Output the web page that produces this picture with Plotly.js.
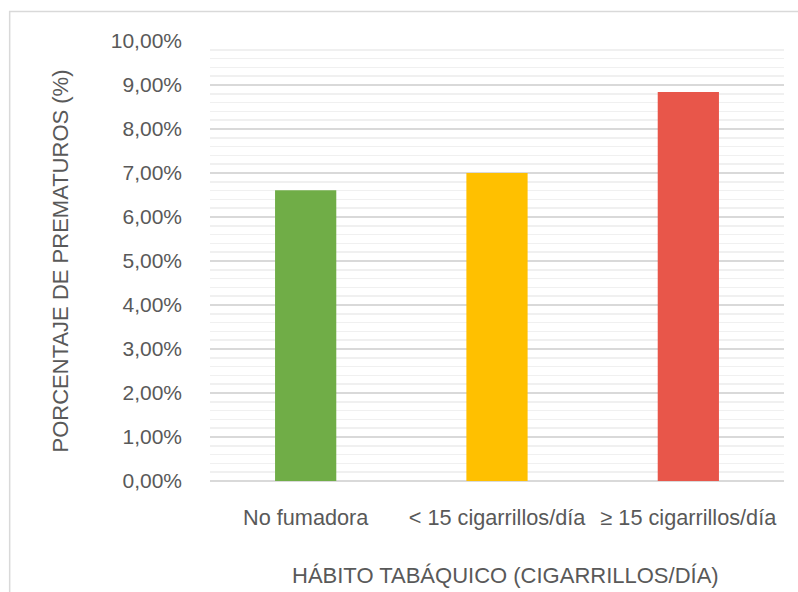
<!DOCTYPE html>
<html>
<head>
<meta charset="utf-8">
<script src="https://cdn.plot.ly/plotly-3.0.1.min.js"></script>
<style>
  html, body { margin: 0; padding: 0; background: #fff; }
  #chart { width: 798px; height: 592px; }
</style>
</head>
<body>
<div id="chart"></div>
<script>
// Preterm birth rate by maternal smoking habit
const categories = ['No fumadora', '< 15 cigarrillos/día', '≥ 15 cigarrillos/día'];
const prematureRate = [0.0661, 0.0700, 0.0884];
const barColors = ['#70AD47', '#FFC000', '#E8564A'];
const yTickValues = [0, 0.01, 0.02, 0.03, 0.04, 0.05, 0.06, 0.07, 0.08, 0.09, 0.10];

const FONT = '"Liberation Sans", Arial, sans-serif';
const TEXT = '#595959';

const L = 210, R = 784.5, T = 41, B = 481, W = 798, H = 592;
const pw = R - L, ph = B - T;
const px = v => (v - L) / pw;
const py = v => (B - v) / ph;

const trace = {
  type: 'bar',
  x: categories,
  y: prematureRate,
  width: 0.32,
  marker: { color: barColors, line: { width: 0 } },
  hoverinfo: 'x+y'
};

const layout = {
  width: W,
  height: H,
  margin: { l: L, r: W - R, t: T, b: H - B, pad: 0 },
  paper_bgcolor: '#ffffff',
  plot_bgcolor: '#ffffff',
  separators: ',.',
  showlegend: false,
  font: { family: FONT, color: TEXT, size: 20 },
  xaxis: {
    type: 'category',
    range: [-0.5, 2.5],
    showgrid: false,
    showline: false,
    zeroline: false,
    ticks: '',
    tickangle: 0,
    automargin: false,
    ticklabelstandoff: 21,
    tickfont: { family: FONT, size: 21.7, color: TEXT }
  },
  yaxis: {
    range: [0, 0.10],
    tickvals: yTickValues,
    tickformat: '.2%',
    showline: false,
    zeroline: true,
    zerolinecolor: '#d9d9d9',
    zerolinewidth: 1.5,
    gridcolor: '#d9d9d9',
    gridwidth: 1.5,
    ticks: '',
    automargin: false,
    ticklabelstandoff: 27,
    tickfont: { family: FONT, size: 21, color: TEXT },
    minor: { dtick: 0.002, showgrid: true, gridcolor: '#f0f0f0', gridwidth: 1.5, ticks: '' },
    title: { text: 'PORCENTAJE DE PREMATUROS (%)', font: { family: FONT, size: 22, color: TEXT }, standoff: 36 }
  },
  annotations: [{
    // x-axis title, set slightly right of the plot centre
    text: 'HÁBITO TABÁQUICO (CIGARRILLOS/DÍA)',
    xref: 'paper', yref: 'paper',
    x: px(505.5), y: py(575),
    xanchor: 'center', yanchor: 'middle',
    showarrow: false,
    font: { family: FONT, size: 22, color: TEXT }
  }],
  shapes: [{
    type: 'rect',
    xref: 'paper', yref: 'paper',
    x0: px(9.5), x1: px(W + 10),
    y0: py(H + 10), y1: py(11.5),
    line: { color: '#d9d9d9', width: 1.5 },
    fillcolor: 'rgba(0,0,0,0)',
    layer: 'below'
  }]
};

Plotly.newPlot('chart', [trace], layout, { displayModeBar: false, staticPlot: true });
</script>
</body>
</html>
